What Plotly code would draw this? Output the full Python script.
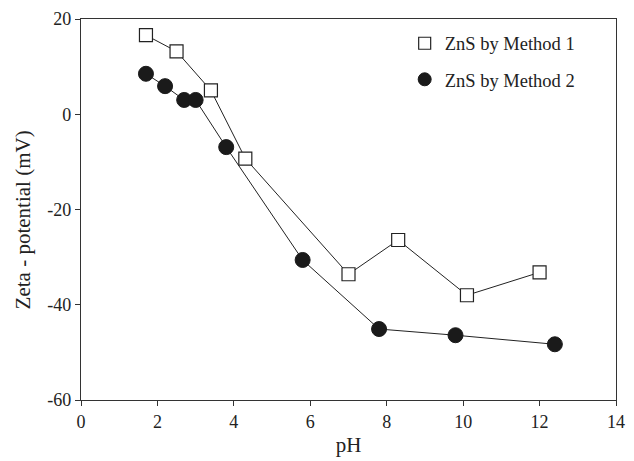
import plotly.graph_objects as go

# Zeta potential of ZnS versus pH
ph_m1 = [1.7, 2.5, 3.4, 4.3, 7.0, 8.3, 10.1, 12.0]
zeta_m1 = [16.6, 13.2, 5.0, -9.3, -33.6, -26.4, -38.0, -33.2]

ph_m2 = [1.7, 2.2, 2.7, 3.0, 3.8, 5.8, 7.8, 9.8, 12.4]
zeta_m2 = [8.5, 5.9, 3.0, 3.0, -6.9, -30.6, -45.1, -46.4, -48.3]

x_ticks = [0, 2, 4, 6, 8, 10, 12, 14]
y_ticks = [20, 0, -20, -40, -60]
y_tick_labels = ["20", "0", "-20", "-40", "-60"]

FONT = "Liberation Serif, Times New Roman, serif"
INK = "#222"

fig = go.Figure()
fig.add_trace(go.Scatter(
    x=ph_m1, y=zeta_m1, mode="lines+markers", name="ZnS by Method 1",
    line=dict(color=INK, width=1),
    marker=dict(symbol="square", size=13, color="white",
                line=dict(color=INK, width=1.2)),
    showlegend=False,
))
fig.add_trace(go.Scatter(
    x=ph_m2, y=zeta_m2, mode="lines+markers", name="ZnS by Method 2",
    line=dict(color=INK, width=1),
    marker=dict(symbol="circle", size=15, color="#1a1a1a",
                line=dict(color="#1a1a1a", width=1)),
    showlegend=False,
))

# marker-only legend entries
fig.add_trace(go.Scatter(
    x=[None], y=[None], mode="markers", name="ZnS by Method 1",
    marker=dict(symbol="square", size=12, color="white",
                line=dict(color=INK, width=1.2)),
    legendgroup="m1",
))
fig.add_trace(go.Scatter(
    x=[None], y=[None], mode="markers", name="ZnS by Method 2",
    marker=dict(symbol="circle", size=13, color="#1a1a1a",
                line=dict(color="#1a1a1a", width=1)),
    legendgroup="m2",
))

axis_common = dict(
    showgrid=False, zeroline=False, showline=True, linecolor="#333",
    linewidth=1.2, mirror=True, ticks="outside", ticklen=5,
    tickcolor="#333", tickfont=dict(family=FONT, size=18, color=INK),
)

fig.update_layout(
    width=634, height=461,
    margin=dict(l=81, r=9, t=19, b=61),
    paper_bgcolor="white", plot_bgcolor="white",
    font=dict(family=FONT, color=INK),
    xaxis=dict(range=[0, 14], tickvals=x_ticks,
               title=dict(text="pH", font=dict(family=FONT, size=21), standoff=6),
               **axis_common),
    yaxis=dict(range=[-60, 20], tickvals=y_ticks, ticktext=y_tick_labels,
               **axis_common),
    legend=dict(x=0.605, y=0.985, xanchor="left", yanchor="top",
                bgcolor="rgba(0,0,0,0)", borderwidth=0,
                font=dict(family=FONT, size=18.5, color=INK),
                traceorder="grouped", tracegroupgap=9),
    showlegend=True,
    annotations=[dict(
        text="Zeta - potential (mV)", textangle=-90,
        xref="paper", yref="paper", x=-0.108, y=0.472,
        xanchor="center", yanchor="middle", showarrow=False,
        font=dict(family=FONT, size=21, color=INK),
    )],
)

fig.write_html("out.html")
